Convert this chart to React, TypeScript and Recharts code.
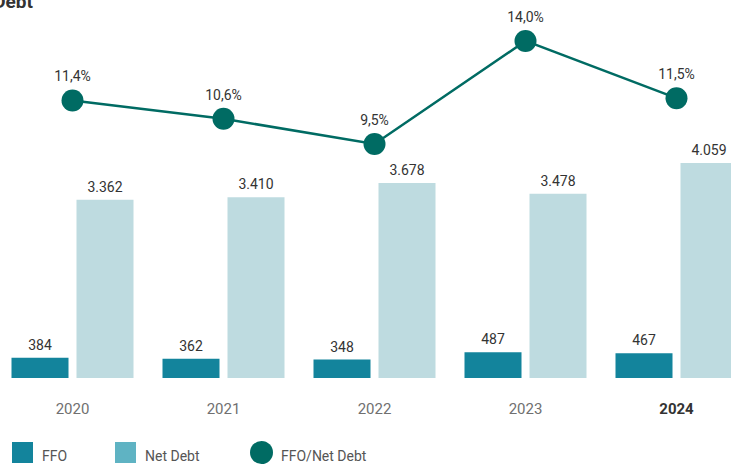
import React from "react";
import {
  ComposedChart,
  XAxis,
  YAxis,
  Bar,
  Line,
  LabelList,
} from "recharts";

const years = ["2020", "2021", "2022", "2023", "2024"];
const ffo = [384, 362, 348, 487, 467];
const netDebt = [3362, 3410, 3678, 3478, 4059];
const ratio = [11.4, 10.6, 9.5, 14.0, 11.5];

const data = years.map((year, i) => ({
  year,
  ffo: ffo[i],
  netDebt: netDebt[i],
  ratio: ratio[i],
}));

const FONT = "Roboto, 'Noto Sans', sans-serif";
const FFO_COLOR = "#13849c";
const DEBT_COLOR = "#bedbe0";
const DEBT_LEGEND = "#5fb3c3";
const LINE_COLOR = "#006b63";

// 1234 -> "1.234"
const fmtThousands = (v: number) =>
  String(v).replace(/\B(?=(\d{3})+(?!\d))/g, ".");
const fmtPct = (v: number) => v.toFixed(1).replace(".", ",") + "%";

const YearTick = (props: any) => {
  const { x, y, payload } = props;
  const last = payload.value === "2024";
  return (
    <text
      x={x}
      y={y + 28}
      textAnchor="middle"
      fontFamily={FONT}
      fontSize={15}
      fontWeight={last ? 700 : 400}
      fill={last ? "#333" : "#707070"}
    >
      {payload.value}
    </text>
  );
};

const App: React.FC = () => {
  return (
    <div
      style={{
        position: "fixed",
        left: 0,
        top: 0,
        width: 731,
        height: 464,
        overflow: "hidden",
        background: "#fff",
        fontFamily: FONT,
      }}
    >
      {/* title, mostly cut off above the frame */}
      <div
        style={{
          position: "absolute",
          right: 698,
          top: -10,
          fontSize: 19,
          fontWeight: 700,
          color: "#333",
          whiteSpace: "nowrap",
        }}
      >
        FFO/Net Debt
      </div>

      <div style={{ position: "absolute", left: -3, top: 0 }}>
        <ComposedChart
          width={755}
          height={430}
          data={data}
          margin={{ top: 20, right: 0, left: 0, bottom: 12 }}
          barCategoryGap={14.5}
          barGap={8}
        >
          <XAxis
            dataKey="year"
            axisLine={false}
            tickLine={false}
            height={40}
            tick={<YearTick />}
            interval={0}
          />
          <YAxis yAxisId="bars" hide domain={[0, 6755]} />
          <YAxis yAxisId="ratio" hide domain={[-0.72, 14.915]} orientation="right" />
          <Bar
            yAxisId="bars"
            dataKey="ffo"
            fill={FFO_COLOR}
            isAnimationActive={false}
          >
            <LabelList
              dataKey="ffo"
              position="top"
              offset={8}
              fill="#333"
              fontSize={14}
              fontFamily={FONT}
              formatter={(v: any) => fmtThousands(Number(v))}
            />
          </Bar>
          <Bar
            yAxisId="bars"
            dataKey="netDebt"
            fill={DEBT_COLOR}
            isAnimationActive={false}
          >
            <LabelList
              dataKey="netDebt"
              position="top"
              offset={8}
              fill="#333"
              fontSize={14}
              fontFamily={FONT}
              formatter={(v: any) => fmtThousands(Number(v))}
            />
          </Bar>
          <Line
            yAxisId="ratio"
            dataKey="ratio"
            stroke={LINE_COLOR}
            strokeWidth={2.5}
            dot={{ r: 11, fill: LINE_COLOR, stroke: LINE_COLOR, strokeWidth: 0 }}
            activeDot={false}
            isAnimationActive={false}
          >
            <LabelList
              dataKey="ratio"
              position="top"
              offset={19}
              fill="#333"
              fontSize={14}
              fontFamily={FONT}
              formatter={(v: any) => fmtPct(Number(v))}
            />
          </Line>
        </ComposedChart>
      </div>

      {/* legend */}
      <div
        style={{
          position: "absolute",
          top: 442,
          left: 0,
          height: 22,
          fontSize: 14,
          color: "#555",
        }}
      >
        <div style={{ position: "absolute", left: 12, top: 0, width: 21, height: 21, background: FFO_COLOR }} />
        <div style={{ position: "absolute", left: 42, top: 6, whiteSpace: "nowrap" }}>FFO</div>
        <div style={{ position: "absolute", left: 115, top: 0, width: 21, height: 21, background: DEBT_LEGEND }} />
        <div style={{ position: "absolute", left: 145, top: 6, whiteSpace: "nowrap" }}>Net Debt</div>
        <div style={{ position: "absolute", left: 250, top: -1, width: 23, height: 23, borderRadius: "50%", background: LINE_COLOR }} />
        <div style={{ position: "absolute", left: 281, top: 6, whiteSpace: "nowrap" }}>FFO/Net Debt</div>
      </div>
    </div>
  );
};

export default App;
